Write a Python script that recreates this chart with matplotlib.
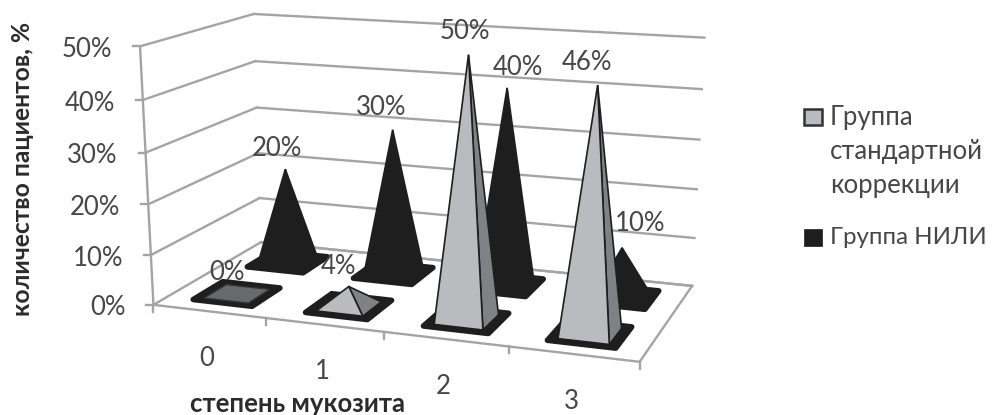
import numpy as np
import matplotlib.pyplot as plt
from matplotlib.patches import Polygon, Rectangle

plt.rcParams['font.family'] = ['Lato', 'Open Sans', 'DejaVu Sans']

# data
categories = ['0', '1', '2', '3']
standard_group = [0, 4, 50, 46]
nili_group = [20, 30, 40, 10]
y_ticks = [0, 10, 20, 30, 40, 50]

GRID = '#a3a4a6'
TEXT = '#474747'
DARK = '#1f1e1f'
LIGHT = '#b9bbbe'
SIDE = '#7f8184'

# corners of the 3d box: (category, depth, value) -> pixel
box_pts = [
    ((0, 0, 0), (155, 304)), ((0, 0, 50), (141, 47)),
    ((0, 2, 0), (262, 244)), ((0, 2, 50), (254, 14)),
    ((4, 2, 0), (692, 286)), ((4, 2, 50), (705, 38)),
    ((4, 0, 0), (640, 362)),
    ((0, 2, 10), (260, 197)), ((4, 2, 10), (694, 238)),
    ((0, 0, 10), (148, 255)), ((0, 2, 30), (255, 107)),
    ((4, 2, 30), (699, 139)),
]

# fit a camera matrix to the box corners
rows = []
for (X, Y, Z), (u, v) in box_pts:
    rows.append([X, Y, Z, 1, 0, 0, 0, 0, -u * X, -u * Y, -u * Z, -u])
    rows.append([0, 0, 0, 0, X, Y, Z, 1, -v * X, -v * Y, -v * Z, -v])
P = np.linalg.svd(np.array(rows, float))[2][-1].reshape(3, 4)


def proj(X, Y, Z):
    p = P @ np.array([X, Y, Z, 1.0])
    return p[0] / p[2], p[1] / p[2]


fig = plt.figure(figsize=(9.93, 4.15), dpi=100)
ax = fig.add_axes([0, 0, 1, 1])
ax.set_xlim(0, 993)
ax.set_ylim(415, 0)
ax.axis('off')


def line3d(a, b):
    pa, pb = proj(*a), proj(*b)
    ax.plot([pa[0], pb[0]], [pa[1], pb[1]], color=GRID, lw=1.7, zorder=1)


# walls and floor
for t in y_ticks:
    line3d((0, 0, t), (0, 2, t))
    line3d((0, 2, t), (4, 2, t))
    px, py = proj(0, 0, t)
    ax.plot([px - 7, px], [py, py], color=GRID, lw=1.7, zorder=1)
    ax.text(px - 28, py + 3, f'{t}%', color=TEXT, fontsize=18.5,
            ha='right', va='center')
line3d((0, 0, 0), (0, 0, 50))
line3d((0, 0, 0), (4, 0, 0))
line3d((4, 0, 0), (4, 2, 0))
line3d((4, 2, 0), (0, 2, 0))
for i in range(5):
    px, py = proj(i, 0, 0)
    ax.plot([px, px], [py, py + 7], color=GRID, lw=1.7, zorder=1)


def pyramid(cat, depth, value, face, side, z):
    cx, cy = cat + 0.5, depth + 0.5
    hx, hy = 0.2, 0.2
    # black base plate
    w = 0.265
    plate = [proj(cx - w, cy - w, 0), proj(cx + w, cy - w, 0),
             proj(cx + w, cy + w, 0), proj(cx - w, cy + w, 0)]
    ax.add_patch(Polygon(plate, closed=True, fc=DARK, ec=DARK, lw=4,
                         joinstyle='round', zorder=z))
    fl, fr = proj(cx - hx, cy - hy, 0), proj(cx + hx, cy - hy, 0)
    br, bl = proj(cx + hx, cy + hy, 0), proj(cx - hx, cy + hy, 0)
    top = proj(cx, cy, value)
    if value == 0:
        ax.add_patch(Polygon([fl, fr, br, bl], closed=True, fc='#68696b',
                             ec='#333333', lw=1, zorder=z + 0.1))
    else:
        ax.add_patch(Polygon([fr, br, top], closed=True, fc=side, ec=DARK,
                             lw=1.2, zorder=z + 0.1))
        ax.add_patch(Polygon([fl, fr, top], closed=True, fc=face, ec=DARK,
                             lw=1.2, zorder=z + 0.2))


# back row first, then the front row over it
for i, v in enumerate(nili_group):
    pyramid(i, 1, v, DARK, DARK, 2 + i)
for i, v in enumerate(standard_group):
    pyramid(i, 0, v, LIGHT, SIDE, 8 + i)

# value labels, nudged from the pyramid tops like in the chart
nudge_a = [(-10, -21), (-10, -20), (-4, -23), (-11, -23)]
nudge_b = [(-8, -21), (-12, -22), (11, -20), (18, -24)]
for i, (a, b) in enumerate(zip(standard_group, nili_group)):
    px, py = proj(i + 0.5, 0.5, a)
    ax.text(px + nudge_a[i][0], py + nudge_a[i][1], f'{a}%', color=TEXT,
            fontsize=18.5, ha='center', va='center', zorder=20)
    px, py = proj(i + 0.5, 1.5, b)
    ax.text(px + nudge_b[i][0], py + nudge_b[i][1], f'{b}%', color=TEXT,
            fontsize=18.5, ha='center', va='center', zorder=20)

# category labels
for i, c in enumerate(categories):
    px, py = proj(i + 0.5, 0, 0)
    ax.text(px - 2, py + 47, c, color=TEXT, fontsize=18.5, ha='center', va='center')

ax.text(23, 169, 'количество пациентов, %', rotation=90, color='#2b2b2b',
        fontsize=17.7, fontweight='bold', ha='center', va='center')
ax.text(297, 404, 'степень мукозита', color='#2b2b2b', fontsize=18.5,
        fontweight='bold', ha='center', va='center')

# legend
ax.add_patch(Rectangle((804, 109), 18, 16, fc=LIGHT, ec='#333333', lw=1.8))
ax.add_patch(Rectangle((804, 229), 18, 17, fc=DARK, ec=DARK, lw=0.5))
for y, s, size in zip([117, 151, 185, 237],
                      ['Группа', 'стандартной', 'коррекции', 'Группа НИЛИ'],
                      [18.5, 18.5, 18.5, 17.3]):
    ax.text(830, y, s, color=TEXT, fontsize=size, ha='left', va='center')

fig.savefig('out.png', dpi=100)
